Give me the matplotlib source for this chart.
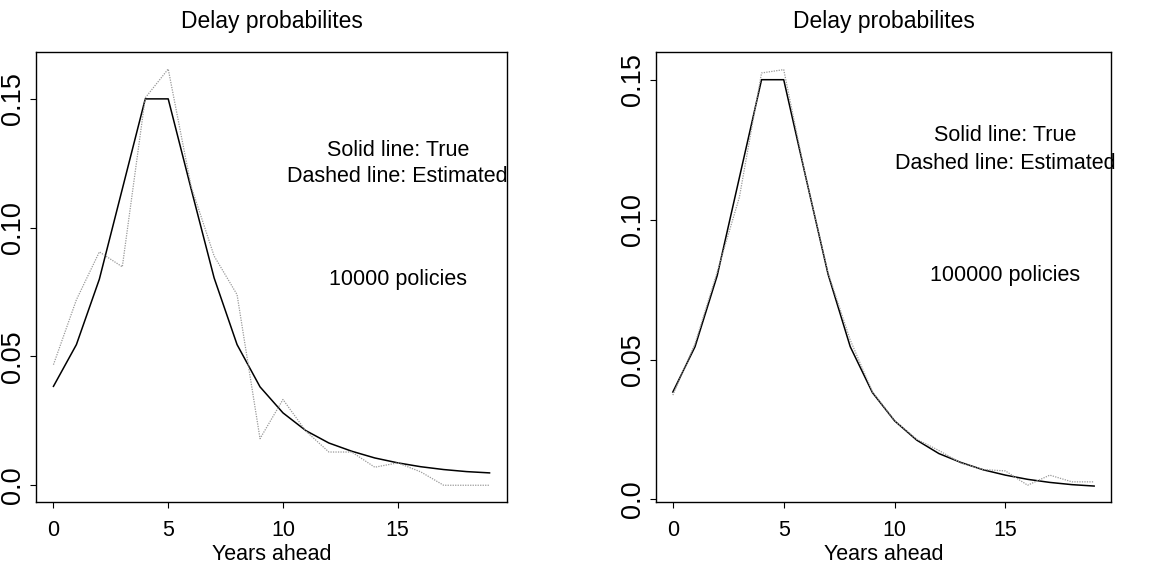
import matplotlib
matplotlib.use("Agg")
import matplotlib.pyplot as plt
import numpy as np

# Delay probabilities, years 0..19
years = np.arange(20)

true_left = [0.0384, 0.0546, 0.0800, 0.1150, 0.1500, 0.1500, 0.1150, 0.0805,
             0.0546, 0.0382, 0.0281, 0.0212, 0.0164, 0.0132, 0.0106, 0.0087,
             0.0072, 0.0061, 0.0053, 0.0048]
est_left = [0.0468, 0.0720, 0.0906, 0.0848, 0.1504, 0.1616, 0.1160, 0.0890,
            0.0740, 0.0181, 0.0333, 0.0210, 0.0129, 0.0129, 0.0070, 0.0087,
            0.0052, 0.0000, 0.0000, 0.0000]

true_right = true_left
est_right = [0.0373, 0.0557, 0.0813, 0.1080, 0.1524, 0.1536, 0.1150, 0.0810,
             0.0570, 0.0385, 0.0282, 0.0215, 0.0175, 0.0130, 0.0107, 0.0102,
             0.0051, 0.0087, 0.0063, 0.0063]

panels = [
    (true_left, est_left, "10000 policies", (-0.0065, 0.1682)),
    (true_right, est_right, "100000 policies", (-0.0009, 0.1599)),
]
axes_rects = [
    [36 / 1169, 69 / 571, 471 / 1169, 450 / 571],
    [656 / 1169, 69 / 571, 455 / 1169, 450 / 571],
]

font = ["Liberation Sans", "DejaVu Sans"]
fs = 15.5

fig = plt.figure(figsize=(11.69, 5.71), dpi=100)

for (tv, ev, label, ylim), rect in zip(panels, axes_rects):
    ax = fig.add_axes(rect)
    ax.plot(years, tv, color="black", lw=1.1)
    ax.plot(years, ev, color="#999999", lw=0.9, ls=(0, (1, 1)))
    ax.set_xlim(-0.76, 19.76)
    ax.set_ylim(*ylim)
    ax.set_xticks([0, 5, 10, 15])
    ax.set_yticks([0.0, 0.05, 0.10, 0.15])
    ax.set_yticklabels(["0.0", "0.05", "0.10", "0.15"], rotation=90,
                       va="center", family=font, fontsize=19.5)
    ax.set_xticklabels(["0", "5", "10", "15"], family=font, fontsize=fs)
    ax.tick_params(direction="out", length=4, width=0.8)
    ax.tick_params(axis="x", pad=9)
    ax.tick_params(axis="y", pad=3)
    for s in ax.spines.values():
        s.set_linewidth(1.0)
    ax.set_title("Delay probabilites", family=font, fontsize=16.5, pad=17)
    ax.set_xlabel("Years ahead", family=font, fontsize=fs, labelpad=2)
    ax.text(15, 0.13, "Solid line: True", ha="center", va="center",
            family=font, fontsize=fs)
    ax.text(15, 0.12, "Dashed line: Estimated", ha="center", va="center",
            family=font, fontsize=fs)
    ax.text(15, 0.08, label, ha="center", va="center",
            family=font, fontsize=fs)

fig.savefig("out.png", dpi=100)
